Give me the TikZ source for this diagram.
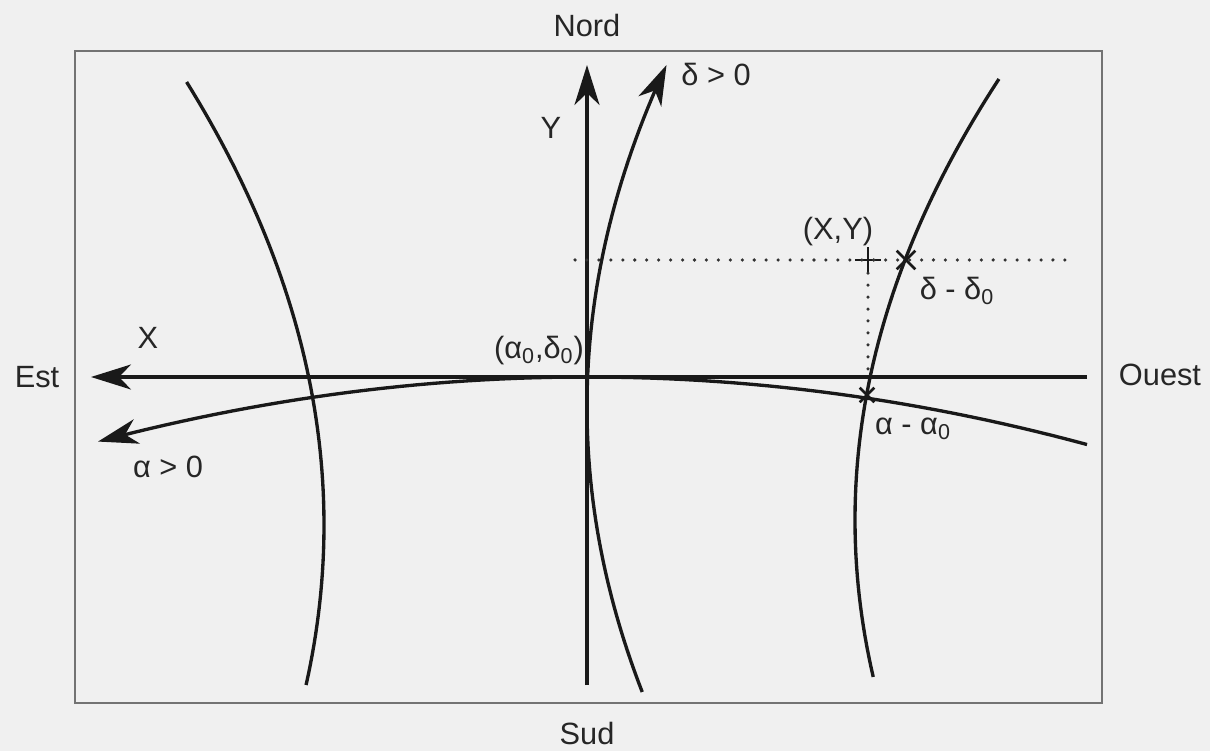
\documentclass[tikz,border=0pt]{standalone}
\usepackage{fontspec}
\setmainfont{Liberation Sans}
\usetikzlibrary{arrows.meta,positioning,shapes.misc}

\begin{document}
\begin{tikzpicture}[
  font=\fontsize{17.5}{20}\selectfont,
  lbl/.style={inner sep=0pt,text=black!85},
  line/.style={line width=1.9pt,black!90},
  arr/.style={line width=1.9pt,black!90,-{Stealth[length=8mm,width=5mm,inset=2.4mm]}},
  frame/.style={line width=1.1pt,black!55},
  dots/.style={line width=2pt,black!80,line cap=round,dash pattern=on 0pt off 6.8pt},
  xmark/.style={draw,cross out,inner sep=0pt,minimum size=0.32cm,line width=1.5pt,black!90}
]
\fill[black!6] (-11.74,-7.48) rectangle (12.46,7.54);
\useasboundingbox (-11.74,-7.48) rectangle (12.46,7.54);
\draw[frame] (-10.24,-6.52) rectangle (10.30,6.52);

\coordinate (O) at (0,0);
\coordinate (axW) at (10.0,0);
\coordinate (axE) at (-9.92,0);
\coordinate (axS) at (0,-6.16);
\coordinate (axN) at (0,6.24);

\node[lbl] (nord) at (0,7.02) {Nord};
\node[lbl] (sud) at (0,-7.14) {Sud};
\node[lbl] (est) at (-11.0,0) {Est};
\node[lbl] (ouest) at (11.46,0.04) {Ouest};
\node[lbl] (ylab) at (-0.72,4.98) {Y};
\node[lbl] (xlab) at (-8.78,0.78) {X};
\node[lbl] (dpos) at (2.58,6.04) {δ > 0};
\node[lbl] (apos) at (-8.38,-1.8) {α > 0};
\node[lbl] (orig) at (-0.96,0.52) {(α\textsubscript{0},δ\textsubscript{0})};
\node[lbl] (xy) at (5.02,2.9) {(X,Y)};
\node[lbl] (ddelta) at (7.4,1.72) {δ - δ\textsubscript{0}};
\node[lbl] (dalpha) at (6.52,-1.04) {α - α\textsubscript{0}};

\draw[arr] (axW) -- (axE);
\draw[arr] (axS) -- (axN);

\draw[line] plot[domain=5.90:-6.16,samples=60] ({-5.26-0.035*(\x+2.96)^2},\x);
\draw[line] plot[domain=5.96:-6.00,samples=60] ({5.36+0.037*(\x+2.86)^2},\x);
\draw[arr] plot[domain=-6.30:6.24,samples=60] ({0.034*(\x+0.6)^2},\x);
\draw[arr] plot[domain=10:-9.78,samples=60] (\x,{-0.0135*\x*\x});

\node[xmark,rotate=45] (pt) at (5.62,2.34) {};
\node[xmark] (cut) at (6.38,2.34) {};
\node[xmark,minimum size=0.24cm] (cutA) at (5.6,-0.36) {};
\coordinate (hstart) at (-0.24,2.34);
\coordinate (hend) at (9.56,2.34);
\draw[dots] (hstart) -- (hend);
\draw[dots] (pt) -- (pt |- O);
\end{tikzpicture}
\end{document}
